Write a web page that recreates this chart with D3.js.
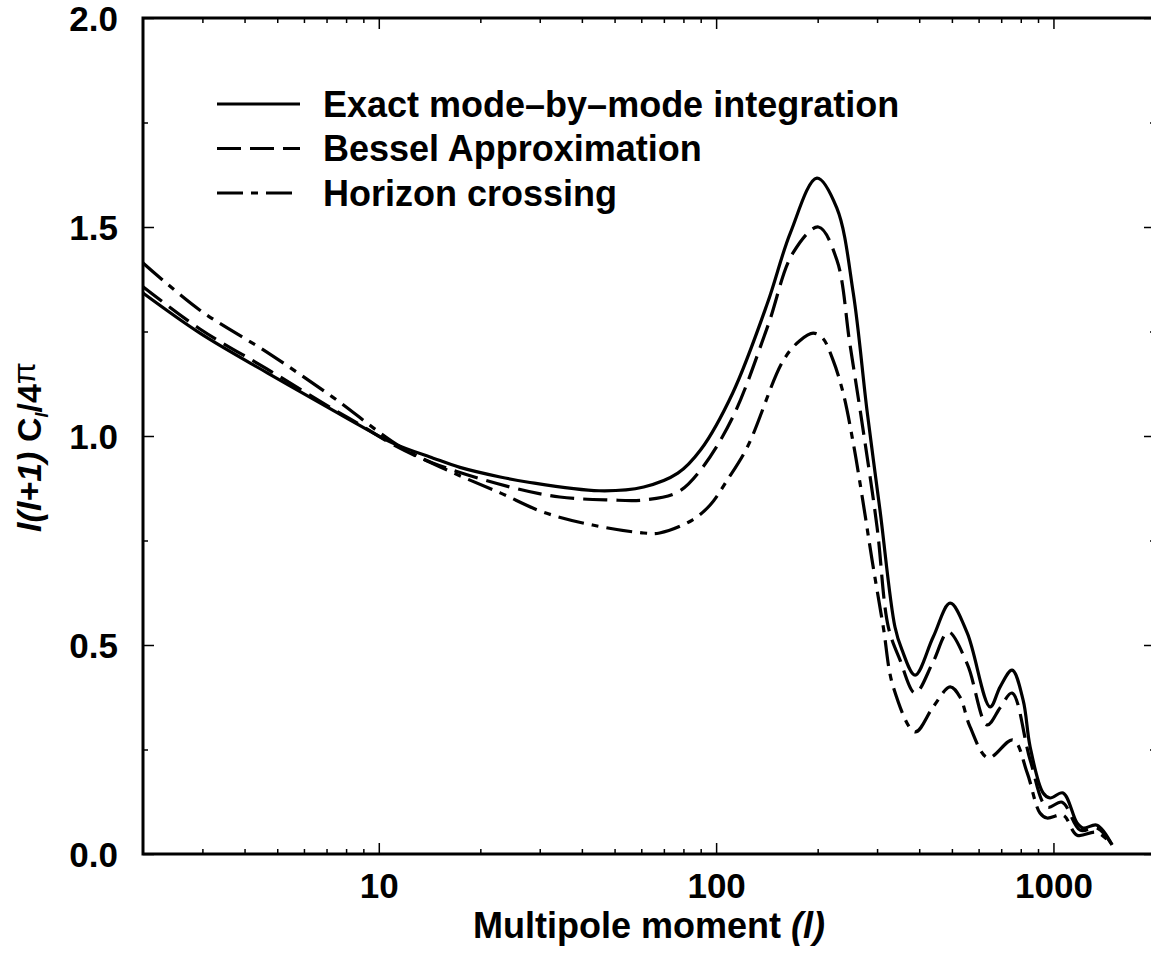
<!DOCTYPE html>
<html>
<head>
<meta charset="utf-8">
<script src="https://cdn.jsdelivr.net/npm/d3@7"></script>
<style>
  body { margin: 0; background: white; }
  text { font-family: "Liberation Sans", Arial, sans-serif; font-weight: bold; }
</style>
</head>
<body>
<div class="chart"></div>
<script>
const width = 1151;
const height = 959;

// [multipole l, l(l+1)C_l/4pi]
const exact = [
  [2, 1.342], [2.95, 1.246], [4.67, 1.151], [7.3, 1.062], [8.8, 1.025], [11, 0.983],
  [14.5, 0.947], [17.4, 0.925], [22.9, 0.902], [27.5, 0.890], [45, 0.869], [61, 0.878],
  [77, 0.911], [90, 0.967], [112, 1.103], [142, 1.318], [166, 1.486], [199, 1.617],
  [228, 1.545], [255, 1.342], [280, 1.062], [306, 0.823], [339, 0.543], [355, 0.49],
  [389, 0.428], [440, 0.519], [494, 0.600], [555, 0.529], [649, 0.352], [695, 0.400],
  [754, 0.440], [813, 0.368], [853, 0.256], [932, 0.146], [977, 0.134], [1068, 0.146],
  [1175, 0.074], [1225, 0.062], [1346, 0.069], [1492, 0.022]
];
const bessel = [
  [2, 1.357], [2.95, 1.256], [4.67, 1.160], [7.3, 1.065], [8.8, 1.027], [11, 0.980],
  [14.5, 0.935], [24.5, 0.878], [34.4, 0.854], [48.5, 0.847], [61, 0.847], [77, 0.866],
  [90, 0.919], [112, 1.045], [142, 1.261], [169, 1.438], [201, 1.500], [228, 1.421],
  [249, 1.222], [272, 1.021], [300, 0.782], [324, 0.543], [351, 0.464], [389, 0.385],
  [440, 0.460], [488, 0.531], [555, 0.455], [636, 0.309], [695, 0.350], [754, 0.385],
  [853, 0.225], [957, 0.112], [1061, 0.124], [1200, 0.057], [1346, 0.062], [1492, 0.022]
];
const horizon = [
  [2, 1.414], [2.95, 1.301], [4.67, 1.200], [7.3, 1.093], [11.6, 0.974], [16.3, 0.915],
  [22.9, 0.864], [30.7, 0.818], [43, 0.787], [61, 0.768], [68, 0.768], [85, 0.799],
  [96, 0.835], [108, 0.895], [124, 0.975], [158, 1.180], [177, 1.228], [194, 1.246],
  [207, 1.234], [222, 1.182], [238, 1.103], [255, 0.983], [272, 0.847], [290, 0.703],
  [313, 0.543], [335, 0.400], [389, 0.292], [440, 0.352], [494, 0.400], [528, 0.376],
  [566, 0.304], [640, 0.230], [759, 0.273], [836, 0.194], [912, 0.098], [957, 0.086],
  [1068, 0.093], [1175, 0.045], [1346, 0.052], [1492, 0.022]
];

const seriesNames = ["Exact mode\u2013by\u2013mode integration", "Bessel Approximation", "Horizon crossing"];
const seriesDash = ["none", "24,9", "26,8,7,8"];

const xMajor = [10, 100, 1000];
const xMinor = [3, 4, 5, 6, 7, 8, 9, 20, 30, 40, 50, 60, 70, 80, 90, 200, 300, 400, 500, 600, 700, 800, 900];
const yMajor = [0, 0.5, 1.0, 1.5, 2.0];
const yMinor = [0.25, 0.75, 1.25, 1.75];

const plot = { left: 143, right: 1155, top: 18, bottom: 854 };

const svg = d3.select(".chart")
  .append("svg")
  .attr("width", width)
  .attr("height", height);

const x = d3.scaleLog().domain([2, 2000]).range([plot.left, plot.right]);
const y = d3.scaleLinear().domain([0, 2]).range([plot.bottom, plot.top]);

function styleAxis(g, fontSize) {
  g.select(".domain").remove();
  g.selectAll("line").attr("stroke", "black").attr("stroke-width", 1.5);
  g.selectAll("text").attr("fill", "black").attr("font-size", fontSize)
    .attr("font-family", "'Liberation Sans', Arial, sans-serif").attr("font-weight", "bold");
}

// bottom
svg.append("g").attr("transform", `translate(0,${plot.bottom})`)
  .call(d3.axisBottom(x).tickValues(xMajor).tickSize(-11).tickPadding(19).tickFormat(d3.format("d")))
  .call(g => styleAxis(g, 35));
svg.append("g").attr("transform", `translate(0,${plot.bottom})`)
  .call(d3.axisBottom(x).tickValues(xMinor).tickSize(-5).tickFormat(""))
  .call(g => styleAxis(g, 35));
// top
svg.append("g").attr("transform", `translate(0,${plot.top})`)
  .call(d3.axisTop(x).tickValues(xMajor).tickSize(-11).tickFormat(""))
  .call(g => styleAxis(g, 35));
svg.append("g").attr("transform", `translate(0,${plot.top})`)
  .call(d3.axisTop(x).tickValues(xMinor).tickSize(-5).tickFormat(""))
  .call(g => styleAxis(g, 35));
// left
svg.append("g").attr("transform", `translate(${plot.left},0)`)
  .call(d3.axisLeft(y).tickValues(yMajor).tickSize(-11).tickPadding(25).tickFormat(d3.format(".1f")))
  .call(g => styleAxis(g, 35))
  .call(g => g.selectAll("text").attr("dy", "0.37em"));
svg.append("g").attr("transform", `translate(${plot.left},0)`)
  .call(d3.axisLeft(y).tickValues(yMinor).tickSize(-5).tickFormat(""))
  .call(g => styleAxis(g, 35));
// right
svg.append("g").attr("transform", `translate(${plot.right},0)`)
  .call(d3.axisRight(y).tickValues(yMajor).tickSize(-11).tickFormat(""))
  .call(g => styleAxis(g, 35));
svg.append("g").attr("transform", `translate(${plot.right},0)`)
  .call(d3.axisRight(y).tickValues(yMinor).tickSize(-5).tickFormat(""))
  .call(g => styleAxis(g, 35));

// frame
svg.append("rect")
  .attr("x", plot.left)
  .attr("y", plot.top)
  .attr("width", plot.right - plot.left)
  .attr("height", plot.bottom - plot.top)
  .attr("fill", "none")
  .attr("stroke", "black")
  .attr("stroke-width", 3);

const line = d3.line()
  .curve(d3.curveCatmullRom.alpha(0.5))
  .x(d => x(d[0]))
  .y(d => y(d[1]));

const allSeries = [exact, bessel, horizon];

svg.append("g")
  .selectAll("path")
  .data(allSeries)
  .join("path")
  .attr("d", d => line(d))
  .attr("fill", "none")
  .attr("stroke", "black")
  .attr("stroke-width", 3.2)
  .attr("stroke-dasharray", (d, i) => seriesDash[i]);

// legend
const legend = svg.append("g");
const legendRows = legend.selectAll("g")
  .data(seriesNames)
  .join("g")
  .attr("transform", (d, i) => `translate(217,${104 + i * 44.5})`);

legendRows.append("line")
  .attr("x1", 0).attr("x2", 83)
  .attr("y1", 0).attr("y2", 0)
  .attr("stroke", "black")
  .attr("stroke-width", 3.2)
  .attr("stroke-dasharray", (d, i) => seriesDash[i]);

legendRows.append("text")
  .attr("x", 106)
  .attr("dy", "0.36em")
  .attr("font-size", 36)
  .text(d => d);

// x title
const xTitle = svg.append("text")
  .attr("x", 649)
  .attr("y", 938)
  .attr("text-anchor", "middle")
  .attr("font-size", 36);
xTitle.append("tspan").text("Multipole moment ");
xTitle.append("tspan").attr("font-style", "italic").text("(l)");

// y title
const yTitle = svg.append("text")
  .attr("transform", "translate(41,447) rotate(-90)")
  .attr("text-anchor", "middle")
  .attr("font-size", 34);
yTitle.append("tspan").attr("font-style", "italic").text("l(l+1)");
yTitle.append("tspan").text(" C");
yTitle.append("tspan").attr("font-style", "italic").attr("font-size", 18).attr("dy", 7).text("l");
yTitle.append("tspan").attr("dy", -7).text("/4");
yTitle.append("tspan").attr("font-size", 32).attr("font-weight", "normal").attr("dy", -6).text("\u03c0");
</script>
</body>
</html>
